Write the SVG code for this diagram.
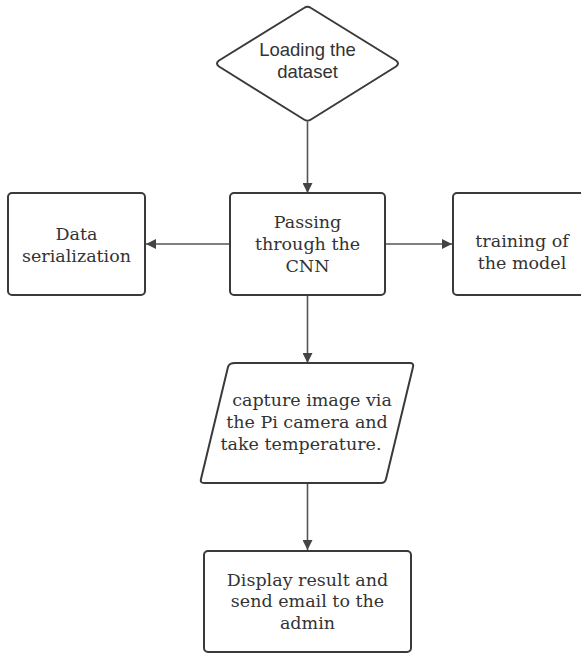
<svg xmlns="http://www.w3.org/2000/svg" width="581" height="654" viewBox="0 0 581 654">
<defs>
<style>
.shape{fill:#fff;stroke:#3a3a3a;stroke-width:2;stroke-linejoin:round}
.conn{fill:none;stroke:#555;stroke-width:1.6}
.serif{font-family:"DejaVu Serif","Liberation Serif",serif;font-size:17.5px;fill:#333;text-anchor:middle}
.sans{font-family:"Liberation Sans",Arial,sans-serif;font-size:18.5px;fill:#333;text-anchor:middle}
</style>
<marker id="arr" viewBox="0 0 10 10" refX="10" refY="5" markerWidth="10" markerHeight="10" markerUnits="userSpaceOnUse" orient="auto">
<path d="M0,0 L10,5 L0,10 Z" fill="#444"/>
</marker>
</defs>
<rect width="581" height="654" fill="#fff"/>
<g id="connectors">
<line class="conn" x1="307.5" y1="122" x2="307.5" y2="193" marker-end="url(#arr)"/>
<line class="conn" x1="230" y1="244" x2="146" y2="244" marker-end="url(#arr)"/>
<line class="conn" x1="385" y1="244" x2="452" y2="244" marker-end="url(#arr)"/>
<line class="conn" x1="307.5" y1="295" x2="307.5" y2="363" marker-end="url(#arr)"/>
<line class="conn" x1="307.5" y1="483" x2="307.5" y2="550" marker-end="url(#arr)"/>
</g>
<g id="node-loading">
<path class="shape" d="M304,8 Q307.5,5.5 311,8 L396,60.5 Q400,63.5 396,66.5 L311,119.5 Q307.5,122 304,119.5 L219,66.5 Q215,63.5 219,60.5 Z"/>
<text class="sans" x="307.5" y="56">Loading the</text>
<text class="sans" x="307.5" y="78">dataset</text>
</g>
<g id="node-cnn">
<rect class="shape" x="230" y="193" width="155" height="102" rx="4"/>
<text class="serif" x="307.5" y="228">Passing</text>
<text class="serif" x="307.5" y="250">through the</text>
<text class="serif" x="307.5" y="272">CNN</text>
</g>
<g id="node-serialization">
<rect class="shape" x="8" y="193" width="137" height="102" rx="4"/>
<text class="serif" x="76.5" y="240">Data</text>
<text class="serif" x="76.5" y="262">serialization</text>
</g>
<g id="node-training">
<rect class="shape" x="453" y="193" width="138" height="102" rx="4"/>
<text class="serif" x="522" y="247">training of</text>
<text class="serif" x="522" y="269">the model</text>
</g>
<g id="node-capture">
<path class="shape" d="M235,363 L410,363 Q414,363 413,367 L386,479 Q385,483 381,483 L204,483 Q200,483 201,479 L228,367 Q229,363 235,363 Z"/>
<text class="serif" x="312" y="406">capture image via</text>
<text class="serif" x="307" y="428">the Pi camera and</text>
<text class="serif" x="301" y="450">take temperature.</text>
</g>
<g id="node-display">
<rect class="shape" x="204" y="551" width="207" height="101" rx="4"/>
<text class="serif" x="307.5" y="586">Display result and</text>
<text class="serif" x="307.5" y="607">send email to the</text>
<text class="serif" x="307.5" y="629">admin</text>
</g>
</svg>
